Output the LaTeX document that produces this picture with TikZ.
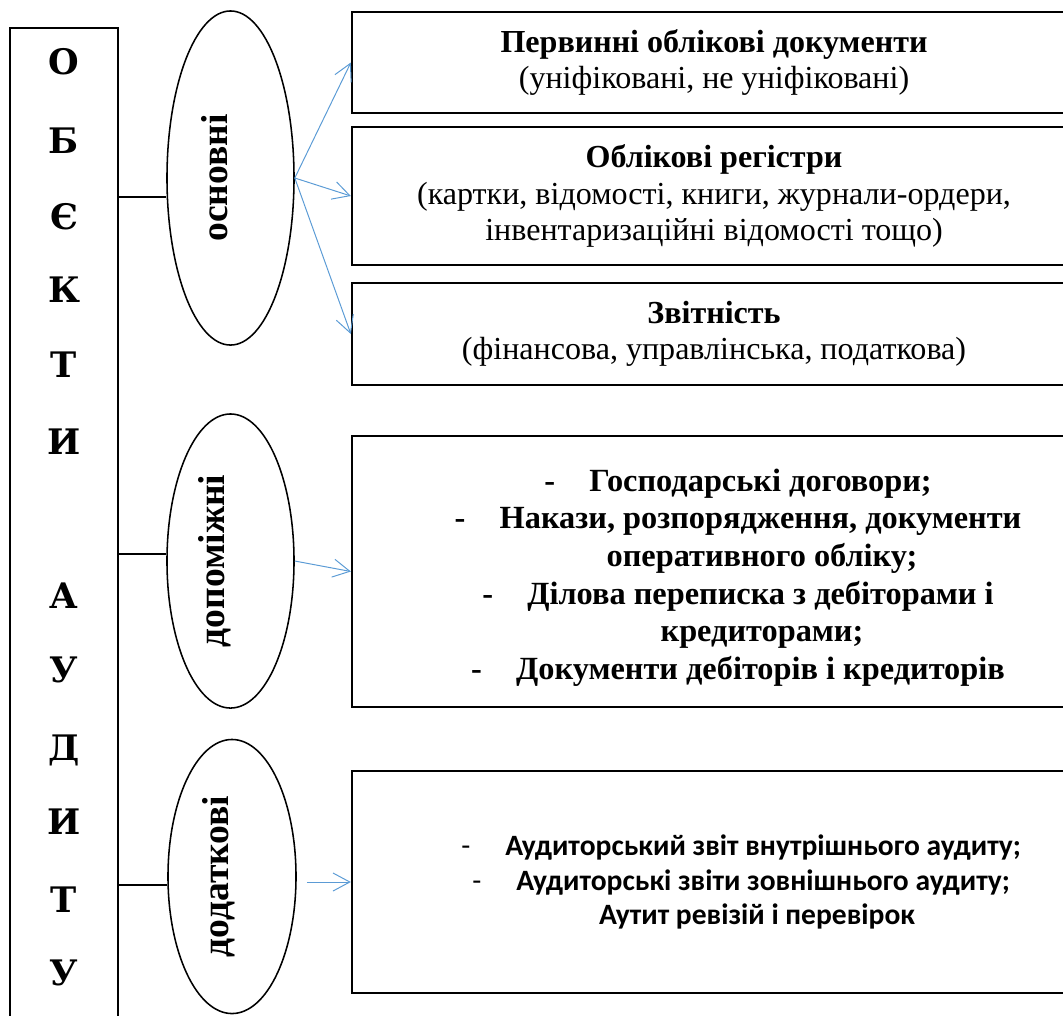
\documentclass[tikz,border=0pt]{standalone}
\usepackage{fontspec}
\usepackage{graphicx}
\setmainfont{Liberation Serif}
\newfontfamily\letterfont{DejaVu Serif}
\newfontfamily\calfont{Carlito}
\usetikzlibrary{shapes.geometric, arrows.meta}
\definecolor{arrowblue}{HTML}{5B9BD5}
\tikzset{
  objbox/.style={draw, line width=1.5pt, minimum width=2.7cm, minimum height=25.3cm, inner sep=0pt},
  letter/.style={font=\letterfont\bfseries\fontsize{25}{29}\selectfont, text height=18.2pt, text depth=0pt, inner sep=0pt},
  grp/.style={ellipse, draw, line width=1.1pt, inner sep=0pt},
  grptext/.style={rotate=90, anchor=base, inner sep=0pt, font=\bfseries\fontsize{26.7}{30}\selectfont},
  doc/.style={draw, line width=1.5pt, minimum width=18.1cm, align=center, inner sep=0pt,
              font=\fontsize{22.8}{26}\selectfont},
  conn/.style={line width=1.1pt},
  arr/.style={-{Straight Barb[length=0.42cm, width=0.45cm]}, arrowblue, line width=0.7pt}
}
\newcommand{\dsh}{\makebox[1.125cm][l]{-}}

\begin{document}
\begin{tikzpicture}[x=0.025cm, y=-0.025cm]
  \useasboundingbox (0,0) rectangle (1063,1015);
  \clip (0,0) rectangle (1063,1015);
  % left column
  \node[objbox] (obj) at (64,534.5) {};
  \foreach \ch/\yy [count=\i] in {О/62, Б/141, Є/217, К/290, Т/365, И/442, А/596, У/670, Д/748, И/822, Т/900, У/973}
    \node[letter] (let\i) at (64,\yy) {\ch};
  % groups
  \node[grp, minimum width=3.175cm, minimum height=8.35cm] (osn) at (230.5,178) {};
  \node[grp, minimum width=3.175cm, minimum height=7.35cm] (dop) at (230.5,561) {};
  \node[grp, minimum width=3.2cm, minimum height=6.85cm] (dod) at (232,876.5) {};
  \node[grptext] (osnt) at ([xshift=-0.07cm]osn.center) {основні};
  \node[grptext] (dopt) at ([xshift=-0.14cm]dop.center) {допоміжні};
  \node[grptext] (dodt) at ([xshift=-0.1cm]dod.center) {додаткові};
  % documents
  \node[doc, minimum height=2.525cm] (perv) at (714,62.5) {\textbf{Первинні облікові документи}\\(уніфіковані, не уніфіковані)};
  \node[doc, minimum height=3.45cm] (reg) at (714,196) {\textbf{Облікові регістри}\\(картки, відомості, книги, журнали-ордери,\\інвентаризаційні відомості тощо)};
  \node[doc, minimum height=2.55cm] (zvit) at (714,334) {\textbf{Звітність}\\(фінансова, управлінська, податкова)};
  \node[doc, minimum height=6.775cm, font=\bfseries\fontsize{23}{26.7}\selectfont] (dog) at (714,571.5)
    {\rule{0pt}{24.5pt}\hspace*{1.2cm}\dsh Господарські договори;\\
     \hspace*{1.2cm}\dsh Накази, розпорядження, документи\\
     \hspace*{2.4cm}оперативного обліку;\\
     \hspace*{1.2cm}\dsh Ділова переписка з дебіторами і\\
     \hspace*{2.4cm}кредиторами;\\
     \hspace*{1.2cm}\dsh Документи дебіторів і кредиторів};
  \node[doc, minimum height=5.55cm, font=\calfont\fontsize{21}{24.5}\selectfont] (audit) at (714,882)
    {\hspace*{1.35cm}\makebox[1.1cm][l]{-}\textbf{Аудиторський звіт внутрішнього аудиту;}\\
     \hspace*{1.35cm}\makebox[1.1cm][l]{-}\textbf{Аудиторські звіти зовнішнього аудиту;}\\
     \hspace*{2.15cm}\textbf{Аутит ревізій і перевірок}};
  % links
  \draw[conn] (obj.east |- 0,197) -- (osn.west |- 0,197);
  \draw[conn] (obj.east |- 0,554) -- (dop.west |- 0,554);
  \draw[conn] (obj.east |- 0,885) -- (dod.west |- 0,885);
  \draw[arr] (osn.east) -- (perv.west);
  \draw[arr] (osn.east) -- (reg.west);
  \draw[arr] (osn.east) -- (zvit.west);
  \draw[arr] (dop.east) -- (dog.west);
  \draw[arr] ([xshift=0.25cm]dod.east |- audit.west) -- (audit.west);
\end{tikzpicture}
\end{document}
